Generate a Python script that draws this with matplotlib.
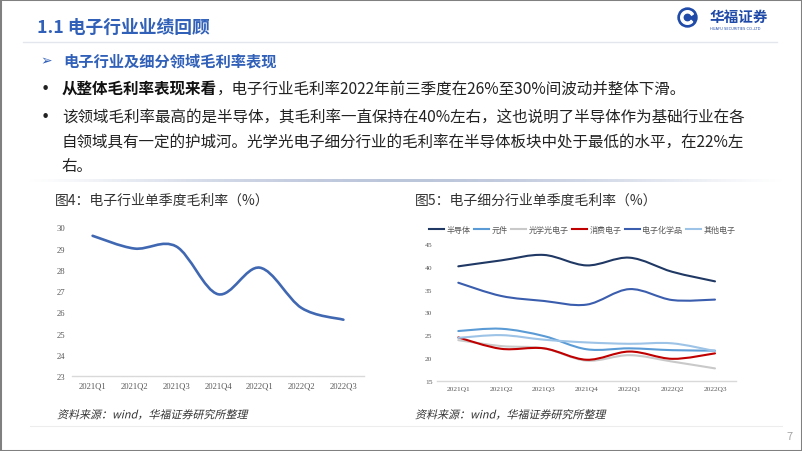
import numpy as np
import matplotlib
matplotlib.use('Agg')
import matplotlib.pyplot as plt
from matplotlib.path import Path
from matplotlib.patches import PathPatch, Circle, Wedge, Rectangle
from matplotlib.lines import Line2D
from matplotlib.textpath import TextPath
from matplotlib.font_manager import FontProperties
from matplotlib.transforms import Affine2D

plt.rcParams['font.family'] = ['Noto Sans CJK SC', 'DejaVu Sans']

# data
quarters = ['2021Q1', '2021Q2', '2021Q3', '2021Q4', '2022Q1', '2022Q2', '2022Q3']
electronics = [29.6, 29.0, 29.1, 26.85, 28.1, 26.2, 25.65]

sub_names = ['半导体', '元件', '光学光电子', '消费电子', '电子化学品', '其他电子']
semiconductor = [40.1, 41.4, 42.6, 40.3, 42.0, 38.9, 36.8]
components = [25.9, 26.4, 24.8, 21.9, 22.1, 21.7, 21.6]
optoelectronics = [23.9, 22.6, 22.1, 19.4, 20.6, 19.2, 17.7]
consumer = [24.5, 22.0, 22.1, 19.6, 21.4, 19.8, 21.0]
chemicals = [36.5, 33.6, 32.5, 31.7, 35.1, 32.7, 32.8]
other = [24.4, 25.0, 24.0, 23.4, 23.1, 23.2, 21.5]
sub_series = [semiconductor, components, optoelectronics, consumer, chemicals, other]
sub_colors = ['#203864', '#5B9BD5', '#C9C9C9', '#C00000', '#3A5DAE', '#9DC3E6']

BLUE = '#3060B8'
W, H = 802, 452


def smooth_path(xs, ys):
    # excel-style smoothed line: bezier through the points
    pts = np.column_stack([xs, ys]).astype(float)
    ext = np.vstack([pts[0], pts, pts[-1]])
    verts = [pts[0]]
    codes = [Path.MOVETO]
    for i in range(len(pts) - 1):
        p0, p1, p2, p3 = ext[i], ext[i + 1], ext[i + 2], ext[i + 3]
        verts += [p1 + (p2 - p0) / 6, p2 - (p3 - p1) / 6, p2]
        codes += [Path.CURVE4] * 3
    return Path(verts, codes)


def style_axes(ax, ymin, ymax, step, fs, ypad, xpad):
    ax.set_xlim(-0.5, len(quarters) - 0.5)
    ax.set_ylim(ymin, ymax)
    ax.set_yticks(np.arange(ymin, ymax + 0.01, step))
    ax.set_xticks(range(len(quarters)))
    ax.set_xticklabels(quarters)
    ax.patch.set_alpha(0)
    for s in ['top', 'right', 'left']:
        ax.spines[s].set_visible(False)
    ax.spines['bottom'].set_color('#D9D9D9')
    ax.spines['bottom'].set_linewidth(1.0)
    ax.tick_params(axis='both', length=0, labelsize=fs, labelcolor='#595959')
    ax.tick_params(axis='y', pad=ypad)
    ax.tick_params(axis='x', pad=xpad)
    for lab in ax.get_xticklabels() + ax.get_yticklabels():
        lab.set_family('Liberation Serif')


def slanted_text(ax, x, y, s, size_px, color):
    # no italic CJK font installed, so shear the glyph outlines
    tp = TextPath((0, 0), s, size=size_px, prop=FontProperties(family='Noto Sans CJK SC'))
    tr = Affine2D().skew_deg(13, 0).scale(1, -1).translate(x, y + size_px * 0.4) + ax.transData
    ax.add_patch(PathPatch(tp, transform=tr, fc=color, ec='none'))


fig = plt.figure(figsize=(W / 100, H / 100), dpi=100)

# slide layer in pixel coordinates
slide = fig.add_axes([0, 0, 1, 1])
slide.set_xlim(0, W)
slide.set_ylim(H, 0)
slide.axis('off')

slide.text(37, 28, '1.1 电子行业业绩回顾', fontsize=12.8, fontweight='bold',
           color=BLUE, va='center')
slide.plot([23, 777], [43, 43], color='#E3E6EC', lw=1)

# logo
slide.add_patch(Circle((687.5, 18.5), 9.5, color='#1F4AA8'))
slide.add_patch(Wedge((687.5, 18.5), 6.8, 40, 330, width=2.2, color='white'))
slide.add_patch(Circle((687.5, 18.5), 2.6, color='#1F4AA8'))
slide.text(710, 16.5, '华福证券', fontsize=10.5, fontweight='bold', color='#1F4AA8',
           va='center')
slide.text(710, 28.5, 'HUAFU SECURITIES CO.,LTD', fontsize=2.6, color='#1F4AA8',
           va='center', family='DejaVu Sans')

slide.text(40, 61, '➢', fontsize=10, color=BLUE, va='center', family='DejaVu Sans')
slide.text(63, 61, '电子行业及细分领域毛利率表现', fontsize=11, fontweight='bold',
           color=BLUE, va='center')

fs_body = 11.2
for yy in [89, 117]:
    slide.text(41, yy, '•', fontsize=fs_body, color='#222222', va='center',
               family='DejaVu Sans')
bold_part = slide.text(62, 89, '从整体毛利率表现来看', fontsize=fs_body, fontweight='bold',
                       color='#111111', va='center')
fig.canvas.draw()
bb = bold_part.get_window_extent(fig.canvas.get_renderer())
slide.text(62 + bb.width, 89, '，电子行业毛利率2022年前三季度在26%至30%间波动并整体下滑。',
           fontsize=fs_body, color='#222222', va='center')
body = ['该领域毛利率最高的是半导体，其毛利率一直保持在40%左右，这也说明了半导体作为基础行业在各',
        '自领域具有一定的护城河。光学光电子细分行业的毛利率在半导体板块中处于最低的水平，在22%左',
        '右。']
for txt, yy in zip(body, [117, 143, 167]):
    slide.text(62, yy, txt, fontsize=fs_body, color='#222222', va='center')

# gradient separator
grad = np.linspace(0, 1, 300)
alpha = np.sin(np.pi * grad) ** 1.2
rgba = np.zeros((1, 300, 4))
rgba[..., 0] = 0.74
rgba[..., 1] = 0.78
rgba[..., 2] = 0.86
rgba[..., 3] = alpha
slide.imshow(rgba, extent=[25, 785, 183, 180], aspect='auto', interpolation='bilinear')
slide.set_xlim(0, W)
slide.set_ylim(H, 0)

slide.text(55, 201, '图4：电子行业单季度毛利率（%）', fontsize=10, color='#333333', va='center')
slide.text(415, 201, '图5：电子细分行业单季度毛利率（%）', fontsize=10, color='#333333', va='center')
slanted_text(slide, 57, 415, '资料来源：wind，华福证券研究所整理', 11.0, '#333333')
slanted_text(slide, 415, 415, '资料来源：wind，华福证券研究所整理', 11.0, '#333333')
slide.plot([30, 782], [427, 427], color='#EDEDED', lw=0.8)
slide.text(793, 437, '7', fontsize=8, color='#A6A6A6', va='center', ha='right')
slide.add_patch(Rectangle((0, 0), W, H, fill=False, ec='#808080', lw=2.2, clip_on=False))

# chart 1
ax1 = fig.add_axes([71.7 / W, 1 - 377 / H, 292.6 / W, 148.7 / H])
style_axes(ax1, 23, 30, 1, 6.2, 4.6, 4.0)
x = np.arange(len(quarters))
ax1.add_patch(PathPatch(smooth_path(x, electronics), fill=False, ec='#4068B2', lw=1.9,
                        capstyle='round'))

# chart 2
ax2 = fig.add_axes([436.9 / W, 1 - 381.7 / H, 299.5 / W, 136.7 / H])
style_axes(ax2, 15, 45, 5, 5.4, 3.2, 3.5)
handles = []
for vals, col, name in zip(sub_series, sub_colors, sub_names):
    ax2.add_patch(PathPatch(smooth_path(x, vals), fill=False, ec=col, lw=1.5,
                            capstyle='round'))
    handles.append(Line2D([], [], color=col, lw=1.5, label=name))
fig.legend(handles=handles, loc='center', bbox_to_anchor=(582 / W, 1 - 230.7 / H),
           ncol=6, frameon=False, fontsize=5.8, handlelength=1.9, handletextpad=0.3,
           columnspacing=0.4, labelcolor='#595959')

fig.savefig('out.png', dpi=100)
